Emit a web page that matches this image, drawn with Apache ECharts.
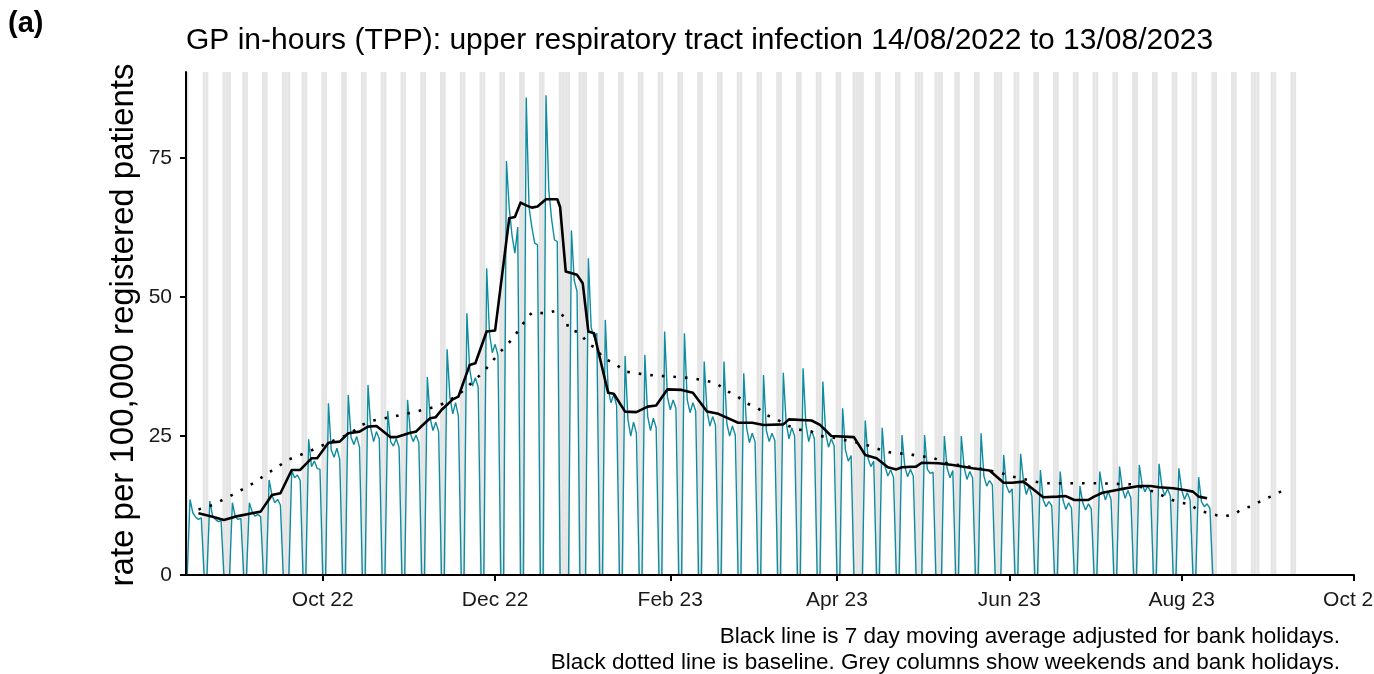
<!DOCTYPE html>
<html>
<head>
<meta charset="utf-8">
<script src="https://cdn.jsdelivr.net/npm/echarts@6/dist/echarts.min.js"></script>
<style>
html,body{margin:0;padding:0;background:#ffffff;}
#chart{width:1374px;height:674px;}
</style>
</head>
<body>
<div id="chart"></div>
<script>
// ---------------- data ----------------
const panelLabel = '(a)';
const titleText = 'GP in-hours (TPP): upper respiratory tract infection 14/08/2022 to 13/08/2023';
const yAxisTitle = 'rate per 100,000 registered patients';
const footnotes = [
  'Black line is 7 day moving average adjusted for bank holidays.',
  'Black dotted line is baseline. Grey columns show weekends and bank holidays.'
];
const xTickDates = ['2022-10-01','2022-12-01','2023-02-01','2023-04-01','2023-06-01','2023-08-01','2023-10-01'];
const xTickLabels = ['Oct 22','Dec 22','Feb 23','Apr 23','Jun 23','Aug 23','Oct 23'];
const yTicks = [0, 25, 50, 75];

const bankHolidays = ['2022-08-29','2022-09-19','2022-12-26','2022-12-27','2023-01-02',
  '2023-04-07','2023-04-10','2023-05-01','2023-05-08','2023-05-29','2023-08-28'];
const shadeStart = '2022-08-14';
const shadeEnd = '2023-09-10';

// daily rate, first value = Sun 14/08/2022, then weeks Mon..Sun
const dailyStart = '2022-08-14';
const dailyRate = [
  0,
  13.6, 11.2, 10.4, 10.0, 10.3, 0, 0,
  13.3, 10.6, 10.0, 9.6, 9.8, 0, 0,
  0, 13.0, 10.5, 10.0, 10.2, 0, 0,
  13.0, 11.4, 10.6, 10.9, 10.5, 0, 0,
  17.1, 14.4, 13.0, 13.6, 12.6, 0, 0,
  0, 18.8, 17.5, 18.0, 17.0, 0, 0,
  24.4, 19.5, 20.5, 19.2, 19.0, 0, 0,
  30.9, 22.5, 21.2, 22.8, 20.8, 0, 0,
  32.4, 24.8, 23.5, 24.9, 23.0, 0, 0,
  34.2, 26.3, 24.0, 25.8, 24.5, 0, 0,
  29.5, 24.0, 23.2, 24.5, 23.0, 0, 0,
  31.5, 25.5, 24.0, 25.2, 23.8, 0, 0,
  35.6, 28.2, 26.0, 27.5, 25.8, 0, 0,
  40.6, 32.0, 29.0, 31.0, 28.6, 0, 0,
  47.1, 37.0, 34.0, 35.5, 33.8, 0, 0,
  55.2, 43.5, 40.0, 41.5, 39.5, 0, 0,
  74.5, 66.0, 61.0, 57.9, 62.6, 0, 0,
  85.9, 66.2, 62.6, 59.7, 59.4, 0, 0,
  86.3, 69.2, 64.0, 60.3, 60.0, 0, 0,
  0, 0, 62.0, 53.0, 51.0, 0, 0,
  0, 57.0, 44.5, 42.8, 43.5, 0, 0,
  45.9, 33.5, 31.0, 32.5, 30.5, 0, 0,
  39.4, 28.0, 25.0, 27.5, 25.5, 0, 0,
  39.6, 28.5, 26.0, 28.2, 26.5, 0, 0,
  43.8, 32.0, 29.7, 31.5, 30.0, 0, 0,
  43.5, 31.5, 29.2, 31.0, 29.5, 0, 0,
  38.4, 29.5, 26.8, 28.5, 27.0, 0, 0,
  38.4, 27.3, 25.0, 26.8, 25.2, 0, 0,
  36.3, 26.5, 23.8, 25.5, 24.0, 0, 0,
  36.0, 26.0, 24.0, 25.5, 24.2, 0, 0,
  36.4, 27.5, 24.5, 26.5, 25.0, 0, 0,
  37.2, 27.0, 24.0, 26.0, 24.5, 0, 0,
  34.8, 25.5, 23.0, 24.5, 23.2, 0, 0,
  30.0, 22.5, 20.5, 21.5, 0, 0, 0,
  0, 27.8, 21.0, 19.5, 20.5, 0, 0,
  26.5, 19.5, 17.8, 18.9, 17.6, 0, 0,
  25.2, 19.5, 17.7, 19.0, 17.8, 0, 0,
  0, 25.2, 19.0, 18.3, 18.5, 0, 0,
  0, 25.0, 19.2, 17.5, 18.8, 0, 0,
  25.0, 19.4, 17.2, 18.6, 17.5, 0, 0,
  25.5, 17.8, 16.0, 17.0, 16.2, 0, 0,
  0, 21.6, 16.0, 14.8, 15.5, 0, 0,
  21.8, 17.0, 14.5, 16.0, 14.2, 0, 0,
  18.9, 13.5, 12.3, 13.2, 12.5, 0, 0,
  18.6, 13.5, 11.8, 13.0, 12.0, 0, 0,
  16.0, 13.0, 11.7, 12.8, 11.9, 0, 0,
  18.6, 15.5, 13.5, 15.0, 13.6, 0, 0,
  19.5, 15.6, 13.8, 15.2, 13.9, 0, 0,
  19.8, 16.3, 15.0, 16.0, 15.0, 0, 0,
  20.0, 15.9, 14.3, 15.5, 14.2, 0, 0,
  19.2, 15.3, 13.6, 14.8, 13.5, 0, 0,
  17.6, 13.2, 12.3, 12.8, 12.0, 0, 0
];

// 7 day moving average (black line)
const movingAvg = [
  ['2022-08-18',11.1],['2022-08-23',10.5],['2022-08-27',9.9],['2022-08-31',10.5],
  ['2022-09-06',11.1],['2022-09-09',11.4],['2022-09-13',14.4],['2022-09-16',14.7],
  ['2022-09-20',18.9],['2022-09-23',18.9],['2022-09-27',21.0],['2022-09-29',21.0],
  ['2022-10-03',23.8],['2022-10-07',24.0],['2022-10-10',25.5],['2022-10-14',25.8],
  ['2022-10-17',26.7],['2022-10-20',26.8],['2022-10-25',24.8],['2022-10-27',24.8],
  ['2022-11-01',25.6],['2022-11-03',25.8],['2022-11-05',26.8],['2022-11-08',28.2],
  ['2022-11-10',28.4],['2022-11-12',29.7],['2022-11-16',31.6],['2022-11-18',32.1],
  ['2022-11-22',37.8],['2022-11-24',38.1],['2022-11-28',43.8],['2022-12-01',44.0],
  ['2022-12-06',64.2],['2022-12-08',64.4],['2022-12-10',67.0],['2022-12-12',66.5],
  ['2022-12-14',66.1],['2022-12-16',66.3],['2022-12-19',67.6],['2022-12-23',67.6],
  ['2022-12-24',66.2],['2022-12-26',54.6],['2022-12-30',54.0],['2023-01-01',52.5],
  ['2023-01-03',43.8],['2023-01-05',43.5],['2023-01-10',32.8],['2023-01-12',32.6],
  ['2023-01-16',29.4],['2023-01-20',29.3],['2023-01-24',30.3],['2023-01-27',30.5],
  ['2023-01-31',33.4],['2023-02-05',33.3],['2023-02-09',32.8],['2023-02-14',29.4],
  ['2023-02-18',29.0],['2023-02-25',27.4],['2023-03-02',27.4],['2023-03-06',27.0],
  ['2023-03-13',27.1],['2023-03-15',28.0],['2023-03-23',27.8],['2023-03-26',27.0],
  ['2023-03-30',25.0],['2023-04-07',24.8],['2023-04-11',21.6],['2023-04-15',21.0],
  ['2023-04-19',19.4],['2023-04-22',19.0],['2023-04-24',19.4],['2023-04-29',19.5],
  ['2023-05-01',20.2],['2023-05-07',20.1],['2023-05-12',19.8],['2023-05-19',19.2],
  ['2023-05-25',18.8],['2023-05-30',16.6],['2023-06-02',16.6],['2023-06-06',16.8],
  ['2023-06-08',16.0],['2023-06-13',14.0],['2023-06-18',14.1],['2023-06-21',14.2],
  ['2023-06-24',13.5],['2023-06-29',13.5],['2023-07-01',14.1],['2023-07-04',14.8],
  ['2023-07-10',15.4],['2023-07-17',16.0],['2023-07-21',16.0],['2023-07-24',15.8],
  ['2023-07-29',15.6],['2023-08-02',15.3],['2023-08-05',15.0],['2023-08-07',14.1],
  ['2023-08-10',13.8]
];

// baseline (black dotted line)
const baseline = [
  ['2022-08-18',11.8],['2022-08-23',12.6],['2022-08-30',14.4],['2022-09-06',16.4],
  ['2022-09-13',18.8],['2022-09-19',20.8],['2022-09-26',22.2],['2022-10-03',23.8],
  ['2022-10-11',25.5],['2022-10-14',26.8],['2022-10-18',27.7],['2022-10-26',28.5],
  ['2022-11-03',29.4],['2022-11-11',30.4],['2022-11-18',32.4],['2022-11-21',33.8],
  ['2022-11-27',36.6],['2022-12-02',39.7],['2022-12-07',42.4],['2022-12-12',46.0],
  ['2022-12-14',47.2],['2022-12-19',47.1],['2022-12-23',47.6],['2022-12-26',46.2],
  ['2022-12-27',44.2],['2022-12-31',43.6],['2023-01-03',41.5],['2023-01-06',40.8],
  ['2023-01-08',39.0],['2023-01-12',38.2],['2023-01-16',36.6],['2023-01-20',36.3],
  ['2023-01-24',36.0],['2023-02-01',35.7],['2023-02-09',35.4],['2023-02-17',34.6],
  ['2023-02-21',33.1],['2023-02-24',32.4],['2023-02-28',30.9],['2023-03-04',30.0],
  ['2023-03-07',28.8],['2023-03-11',27.9],['2023-03-15',26.8],['2023-03-18',26.2],
  ['2023-03-23',25.8],['2023-03-26',25.0],['2023-03-30',24.8],['2023-04-10',23.6],
  ['2023-04-14',23.0],['2023-04-18',22.2],['2023-04-22',21.9],['2023-04-26',21.8],
  ['2023-04-30',21.4],['2023-05-05',21.1],['2023-05-09',20.2],['2023-05-21',19.2],
  ['2023-05-29',18.4],['2023-06-01',17.8],['2023-06-05',17.4],['2023-06-09',16.9],
  ['2023-06-13',16.5],['2023-07-03',16.5],['2023-07-15',16.3],['2023-07-23',14.8],
  ['2023-07-26',14.1],['2023-07-30',13.2],['2023-08-04',12.7],['2023-08-07',11.6],
  ['2023-08-11',11.1],['2023-08-15',10.5],['2023-08-19',10.8],['2023-08-23',12.0],
  ['2023-08-26',12.4],['2023-08-30',13.6],['2023-09-03',14.4],['2023-09-06',15.3]
];

// ---------------- build ----------------
const DAY = 86400000;
const ts = s => Date.parse(s + 'T00:00:00Z');
const xMin = ts('2022-08-14') - 10 * 3600000;
const xMax = ts('2023-10-01');
const yMax = 90.5;

const dailyT0 = ts(dailyStart);
const rateData = dailyRate.map((v, i) => [dailyT0 + i * DAY, v]);

const bhSet = new Set(bankHolidays.map(ts));
const shadeDays = [];
for (let t = ts(shadeStart); t <= ts(shadeEnd); t += DAY) {
  const dow = new Date(t).getUTCDay();
  if (dow === 0 || dow === 6 || bhSet.has(t)) shadeDays.push([t, yMax]);
}
const xTickTs = xTickDates.map(ts);
const FONT = '"Liberation Sans", Arial, Helvetica, sans-serif';

const chart = echarts.init(document.getElementById('chart'), null, {renderer: 'canvas'});
chart.setOption({
  animation: false,
  backgroundColor: '#ffffff',
  grid: {left: 186, right: 20, top: 72, bottom: 99, containLabel: false, outerBoundsMode: 'none'},
  xAxis: {
    type: 'value', min: xMin, max: xMax, z: 10, scale: false,
    splitLine: {show: false},
    axisLine: {show: true, onZero: false, lineStyle: {color: '#000', width: 2}},
    axisTick: {show: true, length: 6, lineStyle: {color: '#000', width: 2}, customValues: xTickTs},
    axisLabel: {
      customValues: xTickTs, margin: 15, color: '#1a1a1a', fontSize: 21, fontFamily: FONT,
      hideOverlap: false,
      formatter: v => { const i = xTickTs.indexOf(v); return i >= 0 ? xTickLabels[i] : ''; }
    }
  },
  yAxis: {
    type: 'value', min: 0, max: yMax, z: 10,
    splitLine: {show: false},
    axisLine: {show: true, onZero: false, lineStyle: {color: '#000', width: 2}},
    axisTick: {show: true, length: 6, lineStyle: {color: '#000', width: 2}, customValues: yTicks},
    axisLabel: {customValues: yTicks, margin: 14, color: '#1a1a1a', fontSize: 21, fontFamily: FONT}
  },
  series: [
    {
      type: 'custom', name: 'shade', silent: true, z: 1,
      data: shadeDays,
      encode: {x: 0, y: 1},
      renderItem: (params, api) => {
        const t = api.value(0);
        const a = api.coord([t - DAY / 2, api.value(1)]);
        const b = api.coord([t + DAY / 2, 0]);
        return {type: 'rect', shape: {x: a[0], y: a[1], width: b[0] - a[0], height: b[1] - a[1]},
                style: {fill: '#e5e5e5'}};
      }
    },
    {
      type: 'line', name: 'rate', data: rateData, showSymbol: false, z: 2,
      lineStyle: {color: '#0f8ca0', width: 1.4}
    },
    {
      type: 'line', name: 'baseline', data: baseline.map(d => [ts(d[0]), d[1]]), showSymbol: false, z: 3,
      lineStyle: {color: '#000', width: 2.6, type: [2.6, 9], cap: 'butt'}
    },
    {
      type: 'line', name: 'moving average', data: movingAvg.map(d => [ts(d[0]), d[1]]), showSymbol: false, z: 4,
      lineStyle: {color: '#000', width: 2.6, join: 'round'}
    }
  ],
  graphic: [
    {type: 'text', left: 8, top: 9, style: {text: panelLabel, font: 'bold 29px ' + FONT, fill: '#000'}},
    {type: 'text', x: 186, y: 41, style: {text: titleText, font: '30px ' + FONT, fill: '#000',
      textAlign: 'left', textVerticalAlign: 'middle'}},
    {type: 'text', x: 124, y: 325, rotation: Math.PI / 2, style: {text: yAxisTitle, font: '33px ' + FONT,
      fill: '#000', textAlign: 'center', textVerticalAlign: 'middle'}},
    {type: 'text', x: 1340, y: 637, style: {text: footnotes[0], font: '22.5px ' + FONT, fill: '#000',
      textAlign: 'right', textVerticalAlign: 'middle'}},
    {type: 'text', x: 1340, y: 663, style: {text: footnotes[1], font: '22.5px ' + FONT, fill: '#000',
      textAlign: 'right', textVerticalAlign: 'middle'}}
  ]
});
</script>
</body>
</html>
